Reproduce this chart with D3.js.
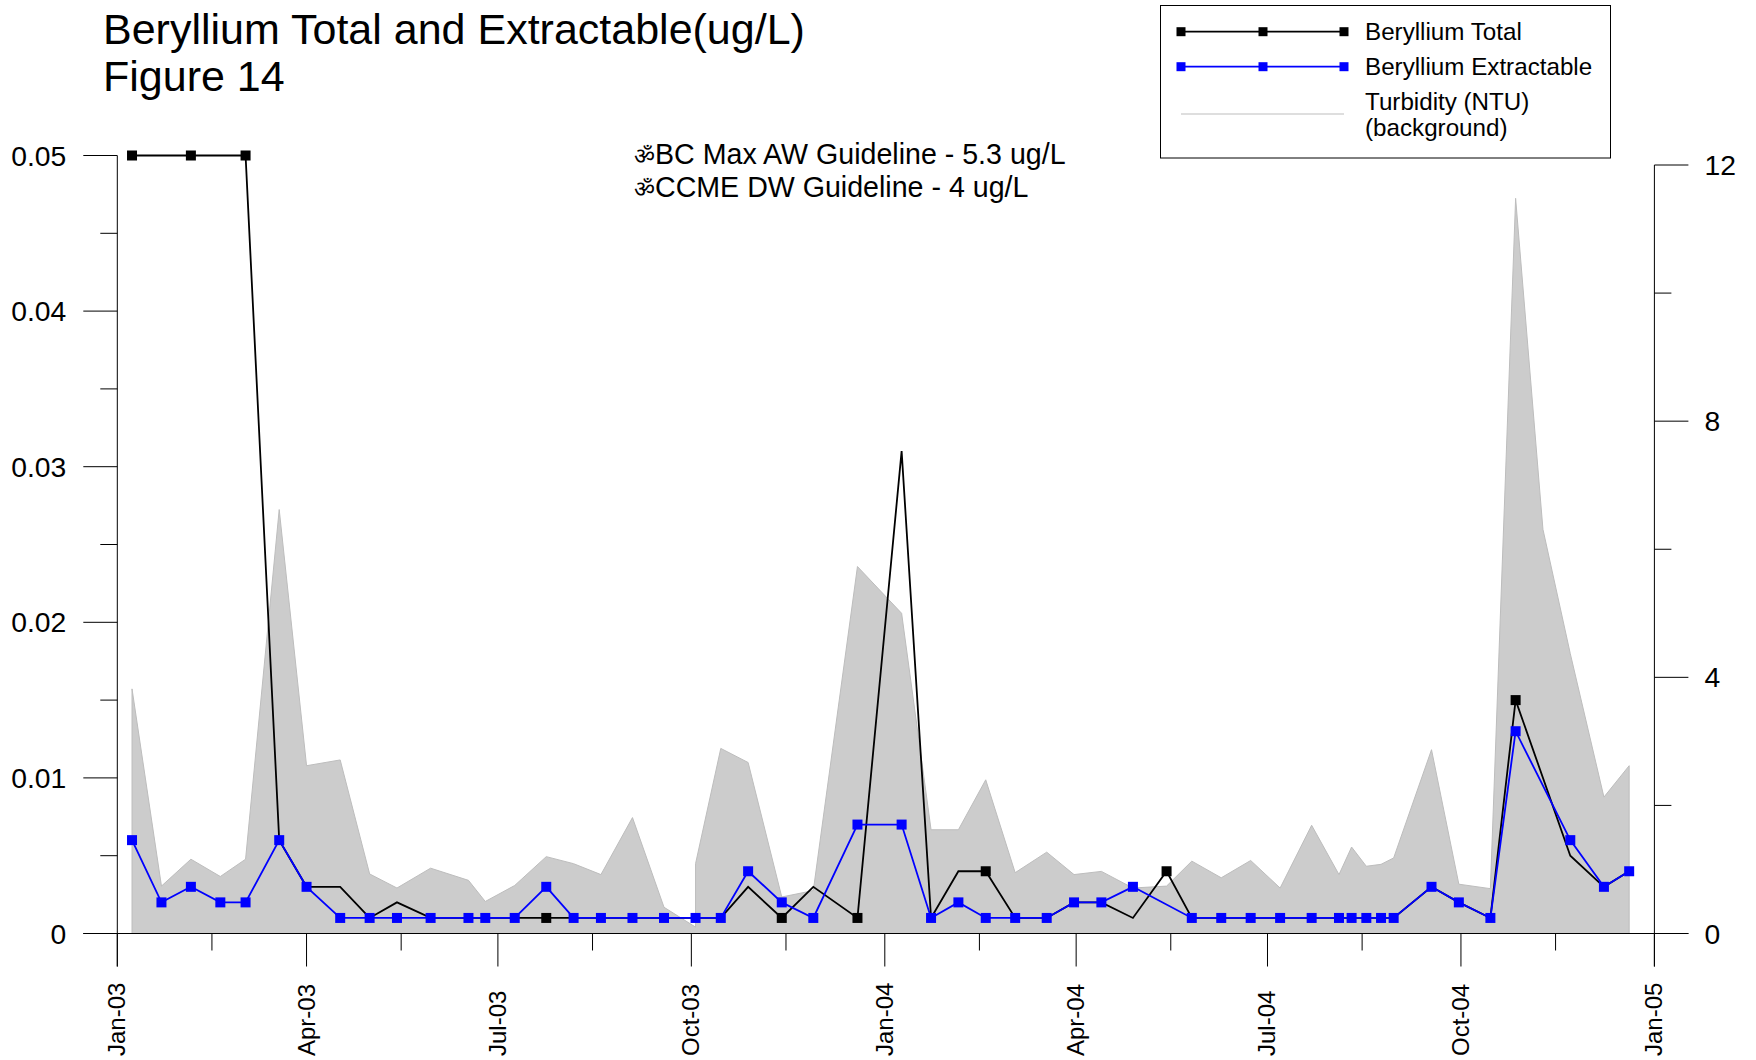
<!DOCTYPE html>
<html><head><meta charset="utf-8">
<script src="https://cdnjs.cloudflare.com/ajax/libs/d3/7.8.5/d3.min.js"></script>
<style>html,body{margin:0;padding:0;background:#fff}svg{display:block}text{font-family:"Liberation Sans",Arial,sans-serif;fill:#000}</style>
</head><body><svg id="c" width="1756" height="1060"></svg>
<script>
const turbDates=["2003-01-08","2003-01-22","2003-02-05","2003-02-19","2003-03-03","2003-03-19","2003-04-01","2003-04-17","2003-05-01","2003-05-14","2003-05-30","2003-06-17","2003-06-25","2003-07-09","2003-07-24","2003-08-06","2003-08-19","2003-09-03","2003-09-18","2003-10-03","2003-10-03","2003-10-15","2003-10-28","2003-11-13","2003-11-28","2003-12-19","2004-01-09","2004-01-23","2004-02-05","2004-02-18","2004-03-03","2004-03-18","2004-03-31","2004-04-13","2004-04-28","2004-05-14","2004-05-26","2004-06-09","2004-06-23","2004-07-07","2004-07-22","2004-08-04","2004-08-10","2004-08-17","2004-08-24","2004-08-30","2004-09-17","2004-09-30","2004-10-15","2004-10-27","2004-11-09","2004-11-22","2004-12-08","2004-12-20"];
const turbidity=[3.82,0.74,1.16,0.89,1.16,6.62,2.62,2.71,0.93,0.71,1.02,0.83,0.50,0.75,1.20,1.09,0.92,1.81,0.41,0.10,1.09,2.89,2.67,0.57,0.67,5.73,5.00,1.62,1.62,2.40,0.95,1.27,0.92,0.97,0.71,0.74,1.13,0.87,1.14,0.71,1.69,0.92,1.35,1.05,1.08,1.18,2.87,0.77,0.70,11.48,6.31,4.37,2.13,2.62];
const extDates=["2003-01-08","2003-01-22","2003-02-05","2003-02-19","2003-03-03","2003-03-19","2003-04-01","2003-04-17","2003-05-01","2003-05-14","2003-05-30","2003-06-17","2003-06-25","2003-07-09","2003-07-24","2003-08-06","2003-08-19","2003-09-03","2003-09-18","2003-10-03","2003-10-15","2003-10-28","2003-11-13","2003-11-28","2003-12-19","2004-01-09","2004-01-23","2004-02-05","2004-02-18","2004-03-03","2004-03-18","2004-03-31","2004-04-13","2004-04-28","2004-05-26","2004-06-09","2004-06-23","2004-07-07","2004-07-22","2004-08-04","2004-08-10","2004-08-17","2004-08-24","2004-08-30","2004-09-17","2004-09-30","2004-10-15","2004-10-27","2004-11-22","2004-12-08","2004-12-20"];
const extractable=[.006,.002,.003,.002,.002,.006,.003,.001,.001,.001,.001,.001,.001,.001,.003,.001,.001,.001,.001,.001,.001,.004,.002,.001,.007,.007,.001,.002,.001,.001,.001,.002,.002,.003,.001,.001,.001,.001,.001,.001,.001,.001,.001,.001,.003,.002,.001,.013,.006,.003,.004];
const totalDates=["2003-01-08","2003-02-05","2003-03-03","2003-03-19","2003-04-01","2003-04-17","2003-05-01","2003-05-14","2003-05-30","2003-06-17","2003-06-25","2003-07-09","2003-07-24","2003-08-06","2003-08-19","2003-09-03","2003-09-18","2003-10-03","2003-10-15","2003-10-28","2003-11-13","2003-11-28","2003-12-19","2004-01-09","2004-01-23","2004-02-05","2004-02-18","2004-03-03","2004-03-18","2004-03-31","2004-04-13","2004-04-28","2004-05-14","2004-05-26","2004-06-09","2004-06-23","2004-07-07","2004-07-22","2004-08-04","2004-08-10","2004-08-17","2004-08-24","2004-08-30","2004-09-17","2004-09-30","2004-10-15","2004-10-27","2004-11-22","2004-12-08","2004-12-20"];
const total=[.05,.05,.05,.006,.003,.003,.001,.002,.001,.001,.001,.001,.001,.001,.001,.001,.001,.001,.001,.003,.001,.003,.001,.031,.001,.004,.004,.001,.001,.002,.002,.001,.004,.001,.001,.001,.001,.001,.001,.001,.001,.001,.001,.003,.002,.001,.015,.005,.003,.004];
const totalMarkerDates=["2003-01-08","2003-02-05","2003-03-03","2003-07-24","2003-11-13","2003-12-19","2004-02-18","2004-05-14","2004-10-27"];
const leftTicks=[0,.01,.02,.03,.04,.05];
const leftMinor=[.005,.015,.025,.035,.045];
const rightTicks=[0,4,8,12];
const rightMinor=[2,6,10];
const xMajor=["2003-01-01","2003-04-01","2003-07-01","2003-10-01","2004-01-01","2004-04-01","2004-07-01","2004-10-01","2005-01-01"];
const xMinor=["2003-02-15","2003-05-16","2003-08-15","2003-11-15","2004-02-15","2004-05-16","2004-08-15","2004-11-15"];
const titleLines=["Beryllium Total and Extractable(ug/L)","Figure 14"];
const noteSymbol="ॐ";
const noteLines=["BC Max AW Guideline - 5.3 ug/L","CCME DW Guideline - 4 ug/L"];
const legendNames=["Beryllium Total","Beryllium Extractable"];
const legendTurb=["Turbidity (NTU)","(background)"];

const P=d3.utcParse("%Y-%m-%d"), F=d3.utcFormat("%b-%y");
const svg=d3.select("#c");
const x=d3.scaleUtc().domain([P(xMajor[0]),P(xMajor[8])]).range([117.3,1654.4]);
const yL=d3.scaleLinear().domain([0,.05]).range([933.5,155.5]);
const yR=d3.scaleLinear().domain([0,12]).range([933.5,165]);
const BLUE="#0000ff",GREY="#cccccc",AX="#000";

const turb=turbDates.map((d,i)=>({d:P(d),v:turbidity[i]}));
svg.append("path").datum(turb).attr("fill",GREY).attr("stroke","#bdbdbd").attr("stroke-width",1)
 .attr("d",d3.area().x(d=>x(d.d)).y0(yR(0)).y1(d=>yR(d.v)));

const ax=svg.append("g").attr("stroke",AX).attr("stroke-width",1).attr("fill","none");
const L=(a,b,c,d)=>ax.append("line").attr("x1",a).attr("y1",b).attr("x2",c).attr("y2",d);
L(x.range()[0]-34,yL(0),x.range()[1]+34,yL(0));
L(x.range()[0],yL(.05),x.range()[0],yL(0)+33);
L(x.range()[1],yR(12),x.range()[1],yL(0)+33);
leftTicks.forEach(t=>L(x.range()[0]-34,yL(t),x.range()[0],yL(t)));
leftMinor.forEach(t=>L(x.range()[0]-17,yL(t),x.range()[0],yL(t)));
rightTicks.forEach(t=>L(x.range()[1],yR(t),x.range()[1]+34,yR(t)));
rightMinor.forEach(t=>L(x.range()[1],yR(t),x.range()[1]+17,yR(t)));
xMajor.forEach(t=>L(x(P(t)),yL(0),x(P(t)),yL(0)+33));
xMinor.forEach(t=>L(x(P(t)),yL(0),x(P(t)),yL(0)+17));

const tick=28.3;
leftTicks.forEach(t=>svg.append("text").attr("x",x.range()[0]-51).attr("y",yL(t)+10).attr("text-anchor","end").attr("font-size",tick).text(t));
rightTicks.forEach(t=>svg.append("text").attr("x",x.range()[1]+50).attr("y",yR(t)+10).attr("font-size",tick).text(t));
xMajor.forEach(t=>svg.append("text").attr("transform",`translate(${x(P(t))+8},1056) rotate(-90)`).attr("font-size",24).text(F(P(t))));

const line=d3.line().x(d=>x(d.d)).y(d=>yL(d.v));
const tot=totalDates.map((d,i)=>({d:P(d),v:total[i]}));
const ext=extDates.map((d,i)=>({d:P(d),v:extractable[i]}));
svg.append("path").datum(tot).attr("fill","none").attr("stroke","#000").attr("stroke-width",1.8).attr("d",line);
const ms=10;
svg.selectAll(".mt").data(tot.filter((d,i)=>totalMarkerDates.includes(totalDates[i]))).join("rect").attr("class","mt")
 .attr("x",d=>x(d.d)-ms/2).attr("y",d=>yL(d.v)-ms/2).attr("width",ms).attr("height",ms).attr("fill","#000");
svg.append("path").datum(ext).attr("fill","none").attr("stroke",BLUE).attr("stroke-width",1.8).attr("d",line);
svg.selectAll(".me").data(ext).join("rect").attr("class","me")
 .attr("x",d=>x(d.d)-ms/2).attr("y",d=>yL(d.v)-ms/2).attr("width",ms).attr("height",ms).attr("fill",BLUE);

titleLines.forEach((t,i)=>svg.append("text").attr("x",103).attr("y",[44,91][i]).attr("font-size",43).text(t));
noteLines.forEach((t,i)=>{
 const n=svg.append("text").attr("x",634).attr("y",[164,197][i]);
 n.append("tspan").attr("font-size",23).text(noteSymbol);
 n.append("tspan").attr("font-size",28.6).text(t);
});

svg.append("rect").attr("x",1160.5).attr("y",5.5).attr("width",450).attr("height",152.5).attr("fill","#fff").attr("stroke","#000");
[[31.7,"#000"],[66.7,BLUE]].forEach(([ly,c],i)=>{
 svg.append("line").attr("x1",1181).attr("x2",1344).attr("y1",ly).attr("y2",ly).attr("stroke",c).attr("stroke-width",1.8);
 [1181,1263,1344].forEach(mx=>svg.append("rect").attr("x",mx-4.5).attr("y",ly-4.5).attr("width",9).attr("height",9).attr("fill",c));
 svg.append("text").attr("x",1365).attr("y",ly+8).attr("font-size",24.2).text(legendNames[i]);
});
svg.append("line").attr("x1",1181).attr("x2",1344).attr("y1",114).attr("y2",114).attr("stroke","#bdbdbd");
legendTurb.forEach((t,i)=>svg.append("text").attr("x",1365).attr("y",[110,136][i]).attr("font-size",24.2).text(t));
</script></body></html>
